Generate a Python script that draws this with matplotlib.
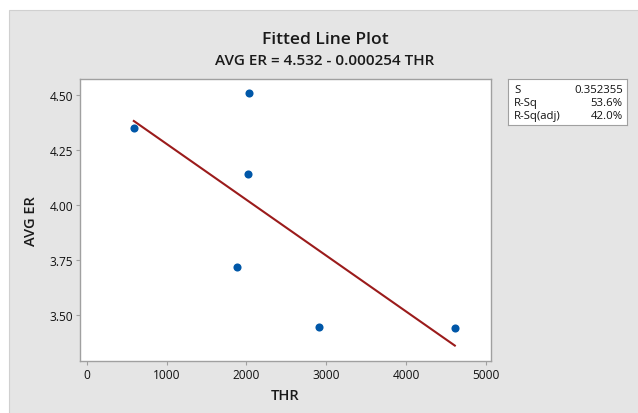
import numpy as np
import matplotlib.pyplot as plt
from matplotlib.patches import Rectangle

plt.rcParams['font.family'] = ['Open Sans', 'DejaVu Sans']

# data
thr = np.array([590, 2030, 2020, 1880, 2910, 4610])
avg_er = np.array([4.35, 4.51, 4.14, 3.72, 3.445, 3.44])

# fitted line as stated in the chart
intercept = 4.532
slope = -0.000254

stat_names = ['S', 'R-Sq', 'R-Sq(adj)']
stat_values = ['0.352355', '53.6%', '42.0%']

W, H = 638, 414
fig = plt.figure(figsize=(W / 100, H / 100), dpi=100)
fig.patch.set_facecolor('white')

# gray panel behind everything
fig.patches.append(Rectangle((9 / W, -0.01), 1, 1 - 11 / H + 0.01,
                             transform=fig.transFigure, facecolor='#e5e5e5',
                             edgecolor='#d0d0d0', lw=0.8, zorder=-5))

ax = fig.add_axes([80 / W, 1 - 362 / H, (491 - 80) / W, (362 - 80) / H])
ax.set_facecolor('white')

ax.scatter(thr, avg_er, s=34, color='#0057a8', zorder=3, linewidths=0)

xs = np.linspace(thr.min(), thr.max(), 100)
ax.plot(xs, intercept + slope * xs, color='#9b1b1b', lw=1.5, zorder=2)

ax.set_xlim(-84, 5063)
ax.set_ylim(3.291, 4.573)
ax.set_xticks([0, 1000, 2000, 3000, 4000, 5000])
ax.set_yticks([3.50, 3.75, 4.00, 4.25, 4.50])
ax.set_yticklabels(['3.50', '3.75', '4.00', '4.25', '4.50'])

for sp in ax.spines.values():
    sp.set_color('#a0a0a0')
    sp.set_linewidth(1.0)
ax.tick_params(direction='out', length=3, width=0.8, color='#a0a0a0',
               labelsize=8.6, labelcolor='#111111', pad=2)

ax.set_xlabel('THR', fontsize=10.5, fontweight='semibold', color='#1a1a1a', labelpad=5)
ax.set_ylabel('AVG ER', fontsize=10.5, fontweight='semibold', color='#1a1a1a', labelpad=8)

fig.text(325 / W, 1 - 40 / H, 'Fitted Line Plot', ha='center', va='center',
         fontsize=12.6, fontweight='semibold', color='#1a1a1a')
fig.text(325 / W, 1 - 61 / H, 'AVG ER = 4.532 - 0.000254 THR', ha='center',
         va='center', fontsize=11, fontweight='semibold', color='#1a1a1a')

# stats box
bx = fig.add_axes([508 / W, 1 - 126 / H, (627 - 508) / W, (126 - 80) / H])
bx.set_xticks([])
bx.set_yticks([])
bx.set_facecolor('white')
for sp in bx.spines.values():
    sp.set_color('#a0a0a0')
for i, (n, v) in enumerate(zip(stat_names, stat_values)):
    y = 0.78 - i * 0.29
    bx.text(0.05, y, n, transform=bx.transAxes, fontsize=8.2, va='center', color='#111111')
    bx.text(0.965, y, v, transform=bx.transAxes, fontsize=8.2, va='center', ha='right',
            color='#111111')

fig.savefig('out.png', dpi=100)
